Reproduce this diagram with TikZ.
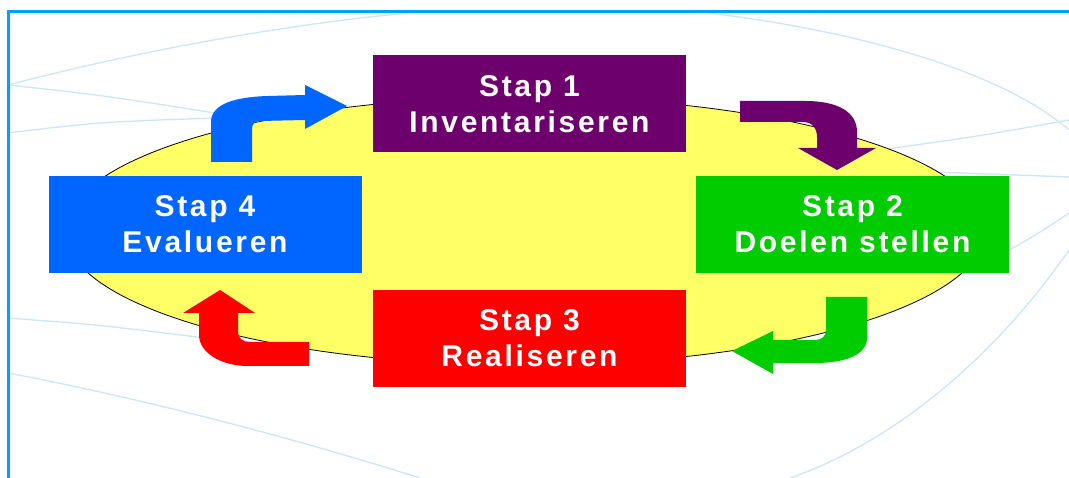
\documentclass[tikz,border=0pt]{standalone}
\usepackage{fontspec}
\setmainfont{Liberation Sans}[LetterSpace=9]
\begin{document}
\begin{tikzpicture}[x=1pt,y=-1pt,
  stepbox/.style={minimum width=313pt,minimum height=97pt,inner sep=0pt,
    text=white,align=center,font=\bfseries\fontsize{30}{36}\selectfont},
  bgline/.style={draw=bglight,line width=1.3pt},
  blockarrow/.style={draw=none}]
\definecolor{framecol}{RGB}{0,160,255}
\definecolor{bglight}{RGB}{205,230,246}
\definecolor{oval}{RGB}{255,255,102}
\definecolor{purp}{RGB}{110,0,110}
\definecolor{grn}{RGB}{0,204,0}
\definecolor{rd}{RGB}{255,0,0}
\definecolor{blu}{RGB}{0,102,255}

\useasboundingbox (0,0) rectangle (1069,478);
\fill[white] (0,0) rectangle (1069,478);

% faint background curves
\draw[bgline] (8,85) .. controls (150,48) and (300,22) .. (430,11);
\draw[bgline] (8,85) .. controls (100,95) .. (215,113);
\draw[bgline] (8,133) .. controls (100,122) .. (215,118);
\draw[bgline] (690,11) .. controls (850,28) and (1000,70) .. (1069,130);
\draw[bgline] (880,150) .. controls (980,136) .. (1069,120);
\draw[bgline] (933,172) -- (1069,177);
\draw[bgline] (945,281) .. controls (990,262) and (1030,240) .. (1069,213);
\draw[bgline] (1069,250) .. controls (1000,350) and (900,440) .. (790,478);
\draw[bgline] (8,318) .. controls (100,325) .. (205,338);
\draw[bgline] (8,373) .. controls (150,400) and (300,440) .. (420,478);

% frame
\draw[framecol,line width=3.5pt] (8.5,478) -- (8.5,11.5) -- (1069,11.5);

% central oval
\draw[fill=oval,draw=black,line width=0.8pt] (525,231) ellipse [x radius=460,y radius=134];

% the four steps
\node[stepbox,fill=purp] (s1) at (529.5,104) {Stap 1\\Inventariseren};
\node[stepbox,fill=grn]  (s2) at (852.5,224.5) {Stap 2\\Doelen stellen};
\node[stepbox,fill=rd]   (s3) at (529.5,338.5) {Stap 3\\Realiseren};
\node[stepbox,fill=blu]  (s4) at (205,224.5) {Stap 4\\Evalueren};

% bent block arrows between the steps
\fill[blu] (211,162) -- (211,122) .. controls (211,104) and (235,97) .. (268,96)
  -- (305,95) -- (305,85) -- (347,106) -- (305,129) -- (305,120) -- (260,121)
  .. controls (255,121) and (252,124) .. (252,129) -- (252,162) -- cycle;
\fill[purp] (740,101) -- (805,101) .. controls (838,101) and (857,112) .. (857,132)
  -- (857,148) -- (876,148) -- (837,170) -- (798,148) -- (817,148) -- (817,137)
  .. controls (817,128) and (812,122) .. (803,122) -- (740,122) -- cycle;
\fill[grn] (826,297) -- (867,297) -- (867,338) .. controls (867,355) and (845,363) .. (815,363)
  -- (773,363) -- (773,374) -- (732,351) -- (773,331) -- (773,340) -- (815,340)
  .. controls (822,340) and (826,336) .. (826,330) -- cycle;
\fill[rd] (309,342) -- (309,366) -- (248,366) .. controls (220,366) and (199,352) .. (199,335)
  -- (199,313) -- (183,313) -- (220,290) -- (255,313) -- (238,313) -- (238,333)
  .. controls (238,338) and (243,342) .. (250,342) -- cycle;
\end{tikzpicture}
\end{document}
